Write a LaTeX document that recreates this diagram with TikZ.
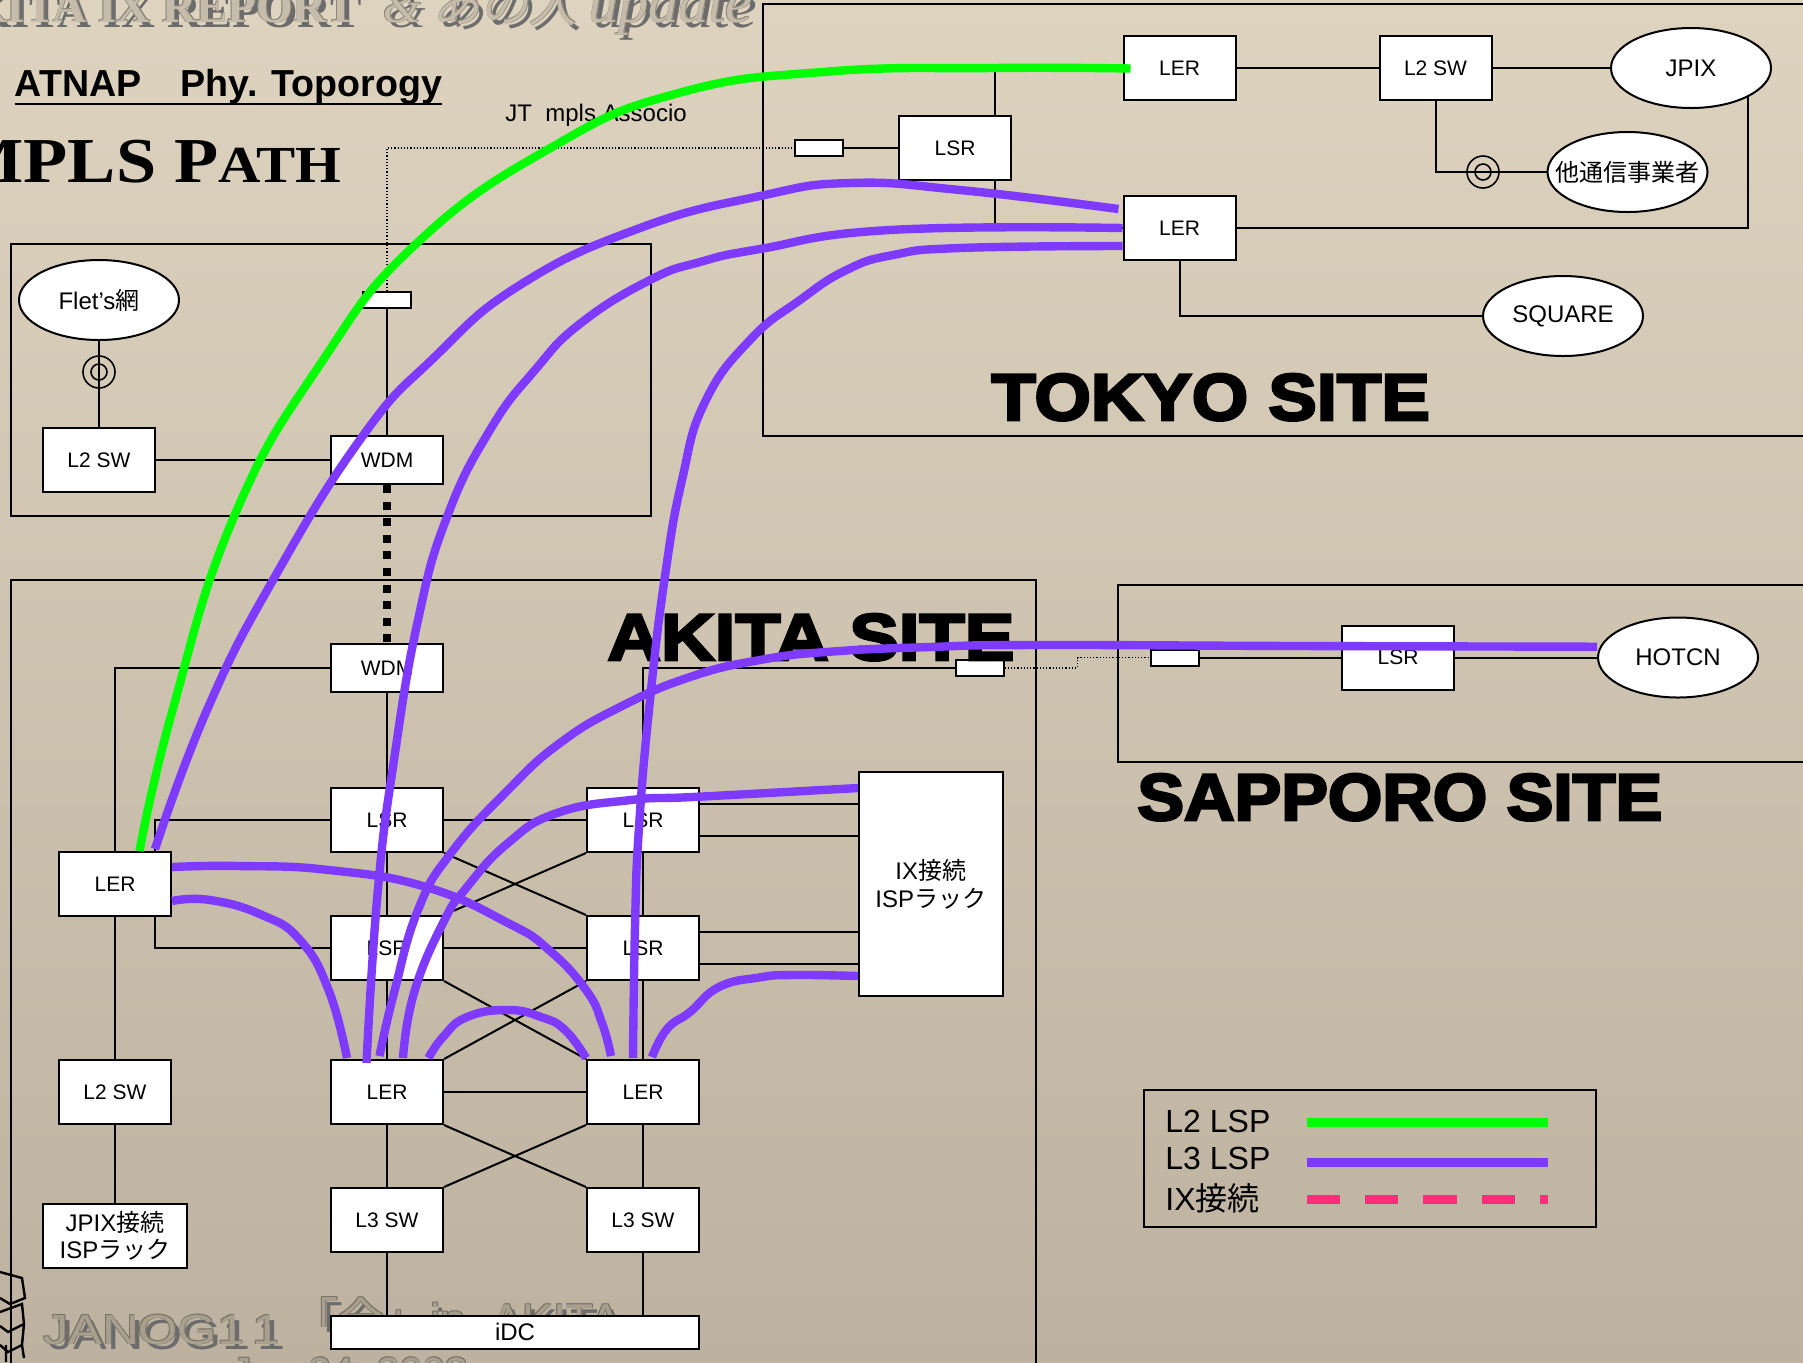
\documentclass[tikz,border=0pt]{standalone}
\usepackage{fontspec}
\usetikzlibrary{backgrounds,shapes.geometric}
\setmainfont{Liberation Sans}
\newfontfamily\jp{Noto Sans CJK JP}
\newfontfamily\jpslant[FakeSlant=0.2]{Noto Sans CJK JP}
\newfontfamily\sitefont[FakeStretch=1.1,BoldFeatures={FakeBold=4}]{Liberation Sans}
\newfontfamily\sitefontwide[FakeStretch=1.125,BoldFeatures={FakeBold=4}]{Liberation Sans}
\newfontfamily\sitefontnarrow[FakeStretch=1.06,BoldFeatures={FakeBold=4}]{Liberation Sans}
\newfontfamily\pathfont[FakeStretch=1.13]{Liberation Serif}
\newfontfamily\ghostserif{Liberation Serif}
\newfontfamily\ghostwide[FakeStretch=1.2]{Liberation Sans}

\definecolor{bgtop}{HTML}{DDD3BF}
\definecolor{bgbottom}{HTML}{BCB29F}
\definecolor{lspgreen}{HTML}{00FF00}
\definecolor{lsppurple}{HTML}{7F3AFF}
\definecolor{lsppink}{HTML}{FF2D7A}

\tikzset{
  box/.style={draw,fill=white,line width=1pt,inner sep=0pt,minimum width=56pt,
    minimum height=32pt,font=\fontsize{10.5}{12}\selectfont,align=center},
  wdmbox/.style={box,minimum height=24pt},
  port/.style={box,minimum width=24pt,minimum height=8pt},
  cloud/.style={draw,fill=white,line width=1pt,ellipse,inner sep=0pt,minimum width=80pt,
    minimum height=40pt,font=\fontsize{12}{14}\selectfont},
  coax/.style={draw,circle,line width=.8pt,inner sep=0pt,minimum size=16pt},
  coaxin/.style={coax,minimum size=8pt},
  link/.style={line width=1pt},
  hairlink/.style={line width=.6pt,densely dotted},
  trunk/.style={line width=4pt,dash pattern=on 4pt off 4.3pt},
  frame/.style={draw,line width=1pt},
  sitename/.style={inner sep=0pt,anchor=base west,
    font=\fontsize{33}{33}\sitefont\bfseries},
  lsptwo/.style={line width=4.2pt,color=lspgreen},
  lspthree/.style={line width=4.2pt,color=lsppurple},
  lspix/.style={line width=4.3pt,color=lsppink,dash pattern=on 16.6pt off 12.5pt},
  keytext/.style={inner sep=0pt,anchor=west,font=\fontsize{16}{18}\selectfont},
  ghost/.style={inner sep=0pt}
}

% washed out letters: shadow, outline, then the face
\newcommand{\ghostlabel}[5]{%
  \node[ghost,anchor=#3,text=gray!85!black,xshift=2.5pt,yshift=-2.5pt] (#1s) at #2 {#5};
  \foreach \dx/\dy [count=\i] in {.35/.35,-.35/.35,.35/-.35,-.35/-.35}
    \node[ghost,anchor=#3,text=black!35!#4,xshift=\dx pt,yshift=\dy pt] (#1e\i) at #2 {#5};
  \node[ghost,anchor=#3,text=#4,opacity=.7] (#1f) at #2 {#5};
}

\begin{document}
\begin{tikzpicture}[x=.5pt,y=-.5pt]
  \useasboundingbox (0,0) rectangle (1803,1362);

  % tokyo
  \node[box] (lertop) at (1179.5,68) {LER};
  \node[box] (swtk) at (1435.5,68) {L2 SW};
  \node[cloud] (jpix) at (1691,68) {JPIX};
  \node[box] (lsrtk) at (955,148) {LSR};
  \node[port] (porttk) at (819,148) {};
  \node[box] (lerbot) at (1179.5,228) {LER};
  \node[cloud] (other) at (1627.5,172) {\makebox[0pt]{\raisebox{-.9pt}{\jp 他通信事業者}}};
  \node[coax] (coaxtk) at (1483,172) {};
  \node[coaxin] (coaxtkin) at (1483,172) {};
  \node[cloud] (square) at (1563,316) {\raisebox{-.9pt}{SQUARE}};

  % flet's
  \node[cloud] (flet) at (99,300) {Flet’s{\jp 網}};
  \node[coax] (coaxfl) at (99,372) {};
  \node[coaxin] (coaxflin) at (99,372) {};
  \node[box] (swfl) at (99,460) {L2 SW};
  \node[wdmbox] (wdmfl) at (387,460) {WDM};
  \node[port] (portfl) at (387,300) {};

  % akita
  \node[wdmbox] (wdmak) at (387,668) {WDM};
  \node[port] (portak) at (979.5,668) {};
  \node[box] (lsrtl) at (387,820) {LSR};
  \node[box] (lsrml) at (387,948) {LSR};
  \node[box] (lerl) at (387,1092) {LER};
  \node[box] (swl) at (387,1220) {L3 SW};
  \node[box] (lsrtr) at (643,820) {LSR};
  \node[box] (lsrmr) at (643,948) {LSR};
  \node[box] (lerr) at (643,1092) {LER};
  \node[box] (swr) at (643,1220) {L3 SW};
  \node[box] (leredge) at (115,884) {LER};
  \node[box] (swedge) at (115,1092) {L2 SW};
  \node[box,minimum width=72pt,font=\fontsize{12}{13.5}\selectfont] (jpixrack) at (115,1236)
    {JPIX{\jp 接続}\\ISP{\jp ラック}};
  \node[box,minimum width=71.75pt,minimum height=112pt,font=\fontsize{12}{14}\selectfont] (ixrack) at (930.75,884)
    {IX{\jp 接続}\\ISP{\jp ラック}};
  \node[box,minimum width=184pt,minimum height=16.5pt,font=\fontsize{12}{14}\selectfont] (idc) at (515,1332) {iDC};

  % sapporo
  \node[port] (portsp) at (1175,657.5) {};
  \node[box] (lsrsp) at (1398,657.5) {LSR};
  \node[cloud] (hotcn) at (1678,657.5) {HOTCN};

  \begin{scope}[on background layer]
    \fill[top color=bgtop,bottom color=bgbottom] (0,0) rectangle (1803,1362);

    \ghostlabel{titlea}{(357,22)}{base east}{bgtop}{\fontsize{23.5}{24}\ghostserif\bfseries AKITA IX REPORT}
    \ghostlabel{titleb}{(383,22)}{base west}{bgtop}{\fontsize{24}{24}\ghostserif\itshape \& {\jpslant あの人} \fontsize{30}{30}\selectfont update}
    \ghostlabel{janog}{(43,1344)}{base west}{bgbottom}{\fontsize{21}{21}\ghostwide JANOG1\,1}
    \ghostlabel{party}{(292,1336)}{base west}{bgbottom}{\fontsize{23}{23}\selectfont{\jp 「全」}in\ \ AKITA}
    \ghostlabel{date}{(231,1386)}{base west}{bgbottom}{\fontsize{20.5}{21}\selectfont Jan 24, 2003}
    \draw[line width=1.2pt] (0,1272) -- (22,1278) -- (25,1298) -- (10,1304) -- (0,1298)
      (0,1312) -- (22,1304) -- (24,1324) -- (8,1332) -- (0,1326)
      (24,1324) -- (22,1345) -- (8,1352) -- (0,1345)
      (6,1345) -- (6,1362) (22,1345) -- (24,1358);

    \draw[frame] (763,4) rectangle (1815,436);
    \draw[frame] (10.5,244) rectangle (651,516);
    \draw[frame] (10.5,580) rectangle (1035.5,1375);
    \draw[frame] (1118,585) rectangle (1815,761.5);

    \draw[link] (lertop) -- (swtk) -- (jpix);
    \draw[link] (porttk) -- (lsrtk);
    \draw[link] ([xshift=20pt]lsrtk.north) |- (lertop.west);
    \draw[link] ([xshift=20pt]lsrtk.south) |- (lerbot.west);
    \draw[link] (swtk.south) |- (other.west);
    \draw[link] (jpix.south east) |- (lerbot.east);
    \draw[link] (lerbot.south) |- (square.west);

    \draw[link] (flet) -- (swfl);
    \draw[link] (swfl) -- (wdmfl);
    \draw[link] (portfl) -- (wdmfl);
    \draw[hairlink] (portfl.north) |- (porttk.west);
    \draw[trunk] (wdmfl.south) -- (wdmak.north);

    \draw[link] (wdmak.west) -| (leredge.north);
    \draw[link] (leredge) -- (swedge) -- (jpixrack);
    \draw[link] (wdmak) -- (lsrtl) -- (lsrml) -- (lerl) -- (swl) -- (swl.south |- idc.north);
    \draw[link] (portak.west) -| (lsrtr.north);
    \draw[link] (lsrtr) -- (lsrmr) -- (lerr) -- (swr) -- (swr.south |- idc.north);
    \draw[link] ([xshift=20pt]leredge.north) |- (lsrtl.west);
    \draw[link] ([xshift=20pt]leredge.south) |- (lsrml.west);
    \draw[link] (lsrtl) -- (lsrtr);
    \draw[link] (lsrml) -- (lsrmr);
    \draw[link] (lerl) -- (lerr);
    \draw[link] (lsrtl.south east) -- (lsrmr.north west);
    \draw[link] (lsrtr.south west) -- (lsrml.north east);
    \draw[link] (lsrml.south east) -- (lerr.north west);
    \draw[link] (lsrmr.south west) -- (lerl.north east);
    \draw[link] (lerl.south east) -- (swr.north west);
    \draw[link] (lerr.south west) -- (swl.north east);
    \foreach \rackfrom in {lsrtr,lsrmr}
      \foreach \rackrow in {8pt,-8pt}
        \draw[link] ([yshift=\rackrow]\rackfrom.east) -- ([yshift=\rackrow]\rackfrom.east -| ixrack.west);

    \draw[hairlink] (portak.east) -- ++(73,0) |- (portsp.west);
    \draw[link] (portsp) -- (lsrsp) -- (hotcn);
  \end{scope}

  % site names and headings
  \node[sitename] (tokyo) at (991,420) {TOKYO SITE};
  \node[sitename,font=\fontsize{33}{33}\sitefontwide\bfseries] (akita) at (607,660) {AKITA SITE};
  \node[sitename,font=\fontsize{33}{33}\sitefontnarrow\bfseries] (sapporo) at (1137,820) {SAPPORO SITE};
  \node[inner sep=0pt,anchor=base west,font=\fontsize{18.8}{20}\selectfont\bfseries] (atnap) at (14.5,96.7) {ATNAP\hspace{19.6pt}Phy. Toporogy};
  \draw[link] ([yshift=-3.6pt]atnap.base west) -- ([yshift=-3.6pt]atnap.base east);
  \node[inner sep=0pt,anchor=base east,font=\pathfont\bfseries] (mpls) at (342,182.7)
    {\fontsize{32}{32}\selectfont MPLS P\fontsize{26}{26}\selectfont ATH};
  \node[inner sep=0pt,anchor=base west,font=\fontsize{12}{14}\selectfont] (assoc) at (505,121.7) {JT\ \ mpls Associo};

  % legend
  \draw[frame] (1143.5,1090) rectangle (1595.5,1226.5);
  \node[keytext] (keya) at (1165,1121.5) {L2 LSP};
  \node[keytext] (keyb) at (1165,1158) {L3 LSP};
  \node[keytext] (keyc) at (1165,1198) {IX{\jp 接続}};
  \coordinate (keyaend) at (1547.5,1122.5);
  \coordinate (keybend) at (1547.5,1162.5);
  \coordinate (keycend) at (1547.5,1199.5);
  \draw[lsptwo,line width=4.3pt] (1307,1122.5) -- (keyaend);
  \draw[lspthree,line width=4.3pt] (1307,1162.5) -- (keybend);
  \draw[lspix] (1307,1199.5) -- (keycend);

  % lsp
  \draw[lsptwo] plot[smooth,tension=.8] coordinates {([shift={(24.5,0)}]leredge.north) (172.6,710) (234,516.7) (321,363) (417,243) (552.6,146.7) (678.6,93) (826.5,71.7) (993,68) ([shift={(8,0.5)}]lertop.west)};
  \draw[lspthree] plot[smooth,tension=.8] coordinates {([shift={(40,-2)}]leredge.north) (207,710) (273,580) (362,437) (433.6,358) (520,285) (640,228) (760,196) (850,183) (960,190) ([shift={(-4,-19)}]lerbot.west)};
  \draw[lspthree] plot[smooth,tension=.8] coordinates {([shift={(-20.5,4)}]lerl.north) (377.6,893) (394,760) (418,620) (447,517) (490,430) (535,370) (581,323) (650,280) (700,262) (760,249) (890,230) (lerbot.west)};
  \draw[lspthree] plot[smooth,tension=.8] coordinates {([shift={(-7.5,-3)}]lerl.north) (394,993) (418,910) (451,853) (508,790) (560,743) (620,707) (690,677) (760,660) (830,651.7) (930,647) (1036,645) (1300,646) (hotcn.west |- 0,646.7)};
  \draw[lspthree] plot[smooth,tension=.8] coordinates {([shift={(16,-1)}]lerl.north) (414,993) (443,923) (467,887) (508,843) (557,813) (631,800) (699,796.7) ([shift={(0,-96)}]ixrack.west)};
  \draw[lspthree] plot[smooth,tension=.8] coordinates {([shift={(41.5,-1)}]lerl.north) (443,1037) (467,1017) (508,1010) (541,1017) (565,1030) ([shift={(-57,-1)}]lerr.north)};
  \draw[lspthree] plot[smooth,tension=.8] coordinates {([shift={(0,-17)}]leredge.east) (239,866) (329,870) (426,887) (508,923) (549,950) (586,990) (602,1023) ([shift={(-32,-3)}]lerr.north)};
  \draw[lspthree] plot[smooth,tension=.8] coordinates {([shift={(0,17)}]leredge.east) (210,900) (262,915) (300,940) (328.6,990) ([shift={(-40,-1)}]lerl.north)};
  \draw[lspthree] plot[smooth,tension=.8] coordinates {([shift={(-10,-1)}]lerr.north) (635,927) (639,827) (650,700) (665,576) (682,480) (705,402) (750,340) (800,300) (846.5,270) (893,255) (960,248) ([yshift=-9pt]lerbot.west)};
  \draw[lspthree] plot[smooth,tension=.8] coordinates {([shift={(9,-2)}]lerr.north) (667,1029) (690,1012) (719,987) (759,977.5) (793,975) ([shift={(0,92)}]ixrack.west)};
\end{tikzpicture}
\end{document}
